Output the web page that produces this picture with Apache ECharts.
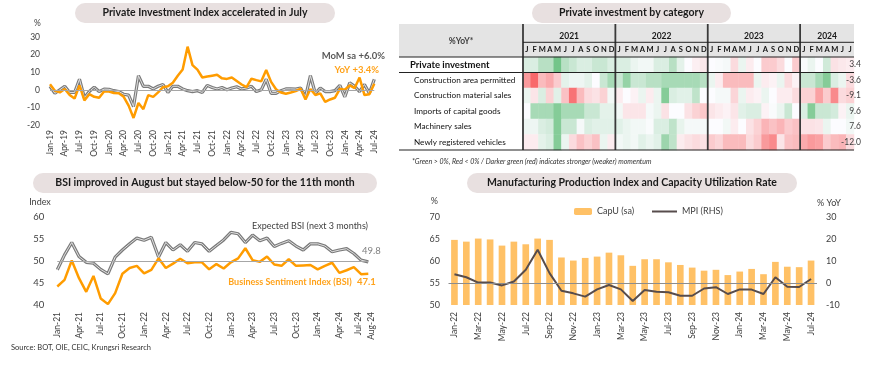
<!DOCTYPE html>
<html><head><meta charset="utf-8">
<script src="https://cdn.jsdelivr.net/npm/echarts@6/dist/echarts.min.js"></script>
<style>html,body{margin:0;padding:0;background:#fff}#c{width:870px;height:370px}</style>
</head><body><div id="c"></div>
<script>
// ---------- DATA ----------
const MONTHS = ['Jan','Feb','Mar','Apr','May','Jun','Jul','Aug','Sep','Oct','Nov','Dec'];
function monthSeq(startYear, n){const o=[];for(let i=0;i<n;i++){o.push(MONTHS[i%12]+'-'+String((startYear+Math.floor(i/12))%100).padStart(2,'0'));}return o;}

// Panel 1: Private Investment Index (Jan-19 .. Jul-24)
const piMonths = monthSeq(2019, 67);
const piYoY = [3.2,-0.5,-1.5,0.5,-3,-5,2.5,-6,-2.5,-4,-4.5,-1,
  -1,-1.8,-2,-4,-9,-16,-7.5,-11,-3,-4,-1.5,1.5,
  2,4,8,11.5,24.5,14,11.5,7,7.5,8,8.5,6.5,
  6.2,7,5,3,1.5,6.3,5.5,4.8,11.3,4.5,0.3,-1.5,
  -2.2,-1.5,-0.7,0.6,-5.5,0.5,-3,-2,-6.9,-5.5,-4.5,0.5,
  0,2.5,1,7,-3,-2.5,3.4];
const piMoM = [2,-2,0,2,-1.5,-1.5,6,-4.5,-1,1.5,-1,0.4,
  0.3,-0.5,-1,-2.5,-3,-9.5,8,2,2,0.5,2,3,
  -1.5,2,2,0.5,-0.5,-1,-0.5,-1.5,2.5,1.3,0.5,1.3,
  0,1,1.7,0.5,1,2,-1,0,6,-2,-2,-0.5,
  0.5,0.5,0.4,1,-4,8,-2,1,-1,-1,-0.5,2.5,
  -4,4,2,-1,3,-2,6.0];

// Panel 2: heatmap (momentum shading, Jan-21 .. Jul-24)
const hmYears = ['2021','2022','2023','2024'];
const hmYearMonths = [12,12,12,7];
const hmLetters = ['J','F','M','A','M','J','J','A','S','O','N','D'];
const hmRows = ['Private investment','Construction area permitted','Construction material sales','Imports of capital goods','Machinery sales','Newly registered vehicles'];
const hmLatest = [3.4,-3.6,-9.1,9.6,7.6,-12.0];
const hmPrivate = [1,1,2,2,4,2,1.5,1,1,1.5,1.5,1, 1,1,0.5,0.3,0.3,1,1,2,0.7,0,-0.4,-0.6, 0,0.1,0.2,-1,0.5,-0.5,0,-1.5,-1.5,-1,0,-1.5, 0.1,0.5,0,1.3,-0.8,-0.6,-0.5];
const hmConstrArea = [-3,-4.5,-2,-2.5,-1.5,0.7,0.4,0.4,0.7,0,1.5,2.5, 1.5,3,1.5,1.5,2,2,2.5,2.5,2.5,2.5,2.5,2, 0.5,-0.5,-2,-2,-2,-2,0.5,-0.5,-0.3,0.5,-1,-0.3, 1.5,1.5,2.5,3.5,1,0.5,-1];
const hmConstrMat = [0.5,-0.7,1,-1.3,0.8,-1.8,-4.2,-2,-1,-0.8,-1.3,0.3, -0.5,0,-0.3,0.5,-0.5,0.5,3.5,1,0.8,0.8,1.8,0, 0,0.2,0.2,-1.2,0.5,-0.5,-0.3,0.5,0,-0.5,-0.5,-1, -1.3,-1.3,-2.8,-1.5,-3.5,-1,-1.3];
const hmImports = [0,2.5,2.5,2.5,3.5,2.5,2.5,2.5,1.5,1.5,0.7,0.7, 0.3,-0.7,-0.7,-0.7,0.2,0.5,-0.8,0,0,-0.8,-1.3,-1.6, -0.7,-0.5,-0.3,-0.7,0.8,1,1,-0.3,0.1,0.5,1.5,0, 1,3.5,1.5,1.5,1.2,-0.3,0.5];
const hmMachinery = [0.4,0.4,1,1.2,3.5,1.5,1.5,0.2,1,0.8,0.8,0.8, 0.8,0.5,0.3,0.3,0.1,1,1,1.8,0.6,0.2,0.2,0.2, 0,0,0.3,-0.5,0,-0.8,-1.3,-2.2,-1.8,-2.2,-1.5,-1.8, -0.8,-0.8,-0.7,0.5,0,0,0.3];
const hmVehicles = [-0.5,-0.5,0.7,1,3.5,0.5,-1,-1.8,-1.3,-1.8,0.5,-0.5, 0.3,0.5,0.3,0.8,0.5,0.8,2.8,1.8,-0.5,-0.8,-1,-0.8, -1.5,-1.2,-2,-2,-2,-1,-1.5,-3,-3.5,-0.7,-1.8,-2, -2.5,-3,-2.8,-1.5,-2,-2.2,-1];

// Panel 3: BSI (Jan-21 .. Aug-24)
const bsiMonths = monthSeq(2021, 44);
const bsi = [44.2,45.7,50.1,46.1,43.0,46.6,41.5,40.2,42.7,47.1,48.4,48.9,
  47.2,48.0,50.6,48.4,49.4,50.5,49.5,49.7,49.7,48.1,49.3,48.3,
  49.7,50.6,52.9,50.2,49.8,51.0,49.2,48.9,50.4,48.9,49.0,49.1,
  48.1,48.9,49.6,47.3,47.9,48.6,47.0,47.1];
const bsiExpected = [48.0,51.4,54.2,51.0,49.7,49.5,48.1,47.1,50.9,52.5,53.9,55.2,
  54.7,55.4,50.9,54.2,52.5,53.7,52.2,54.2,53.9,52.2,53.5,54.8,
  56.5,56.2,54.2,55.9,54.6,55.2,53.3,54.0,54.6,53.4,52.5,53.9,
  53.9,53.4,52.1,52.5,52.8,51.7,50.2,49.8];

// Panel 4: CapU and MPI (Jan-22 .. Jul-24)
const mpiMonths = monthSeq(2022, 31);
const capU = [64.8,64.4,65.1,64.9,63.5,64.4,63.8,65.1,64.8,60.8,60.1,60.7,
  61.0,61.9,61.3,58.9,60.4,60.4,59.7,59.1,58.5,57.8,58.0,56.8,
  57.6,58.2,57.0,59.8,58.7,58.6,60.1];
const mpi = [4.0,2.6,0.2,0.2,-1.1,0.7,6.0,15.1,4.5,-3.5,-4.7,-6.2,
  -2.9,-0.9,-2.9,-8.2,-3.2,-4.0,-4.2,-5.8,-5.8,-2.5,-1.9,-5.0,
  -2.9,-3.0,-5.0,2.6,-1.7,-1.8,1.8];

// ---------- CHART ----------
const FONT = 'Lato, "Open Sans", sans-serif';
const TXT = '#404040';
const ORANGE = '#ff9c00';
const hmSeriesRows = [hmPrivate,hmConstrArea,hmConstrMat,hmImports,hmMachinery,hmVehicles];
const hmCols = []; hmYearMonths.forEach((n,yi)=>{for(let m=0;m<n;m++) hmCols.push(hmYears[yi]+'-'+m);});
const hmColLetters = []; hmYearMonths.forEach(n=>{for(let m=0;m<n;m++) hmColLetters.push(hmLetters[m]);});
const hmData = [];
hmSeriesRows.forEach((row,r)=>row.forEach((v,c)=>hmData.push([c,r,v])));

const HM = {left:523, top:57, width:331, height:93};
const colW = HM.width / hmCols.length;

const G = [];
function txt(x,y,text,opt){G.push({type:'text',x:x,y:y,z:100,silent:true,style:Object.assign({text:text,fontFamily:FONT,fontSize:9,fill:TXT,align:'left',verticalAlign:'middle'},opt||{})});}
function line(x1,y1,x2,y2,w,c){G.push({type:'line',z:90,silent:true,shape:{x1:x1,y1:y1,x2:x2,y2:y2},style:{stroke:c||'#000',lineWidth:w||1}});}
function pill(x1,x2,y1,y2,title){
  G.push({type:'rect',z:80,silent:true,shape:{x:x1,y:y1,width:x2-x1,height:y2-y1,r:(y2-y1)/2},style:{fill:'#e8e0e0'}});
  txt((x1+x2)/2,(y1+y2)/2,title,{align:'center',fontWeight:'bold',fontSize:10.5,fill:'#1a1a1a'});
}
pill(75,335,3,23,'Private Investment Index accelerated in July');
pill(532,731,3,23,'Private investment by category');
pill(33,377,173,193,'BSI improved in August but stayed below-50 for the 11th month');
pill(467,797,173,193,'Manufacturing Production Index and Capacity Utilization Rate');

// panel 1 texts
txt(37.5,23,'%',{align:'center',fontSize:8.5});
txt(385,56,'MoM sa +6.0%',{align:'right',fontWeight:'bold',fontSize:9.5,fill:'#595959'});
txt(379,70,'YoY +3.4%',{align:'right',fontWeight:'bold',fontSize:9.5,fill:'#ffa21a'});

// panel 2 table decoration
G.push({type:'rect',z:-1,silent:true,shape:{x:399,y:24,width:HM.left+HM.width-399,height:HM.top-24},style:{fill:'#e4e4e4'}});
txt(461,41,'%YoY*',{align:'center',fontWeight:'bold',fontSize:8.5});
let acc=0;
hmYears.forEach((y,i)=>{
  const x0 = HM.left + acc*colW;
  txt(x0 + hmYearMonths[i]*colW/2, 36, y, {align:'center',fontWeight:'bold',fontSize:8.5,fill:'#1a1a1a'});
  line(x0,24,x0,HM.top+HM.height,1.8,'#3a3a3a');
  acc += hmYearMonths[i];
});
line(HM.left,42.3,HM.left+HM.width,42.3,1,'#222');
line(399,HM.top,HM.left+HM.width,HM.top,1.2,'#222');
line(399,HM.top+HM.height/6,HM.left+HM.width,HM.top+HM.height/6,1.2,'#222');
line(399,HM.top+HM.height,HM.left+HM.width,HM.top+HM.height,1.2,'#222');
txt(412,162,'*Green > 0%, Red < 0% / Darker green (red) indicates stronger (weaker) momentum',{fontStyle:'italic',fontSize:7,fill:'#333'});

// panel 3 texts
txt(40,201.7,'Index',{align:'center',fontSize:9});
txt(310,226,'Expected BSI (next 3 months)',{align:'center',fontSize:9,fill:'#404040'});
txt(362,251,'49.8',{fontSize:9.5,fill:'#808080'});
txt(290,282,'Business Sentiment Index (BSI)',{align:'center',fontWeight:'bold',fontSize:9,fill:'#ffa21a'});
txt(357,282,'47.1',{fontWeight:'bold',fontSize:9.5,fill:'#ffa21a'});
txt(11,348,'Source: BOT, OIE, CEIC, Krungsri Research',{fontSize:7.5,fill:'#333'});

// panel 4 texts
txt(438,201.5,'%',{align:'right',fontSize:9});
txt(817,203,'% YoY',{fontSize:9});

const axLbl = (o)=>Object.assign({fontFamily:FONT,color:TXT,fontSize:8.5,hideOverlap:false},o);
const noAx = {axisLine:{show:false},axisTick:{show:false},splitLine:{show:false}};
const lastB = bsiMonths.length-1;

const option = {
  animation:false,
  backgroundColor:'#fff',
  textStyle:{fontFamily:FONT},
  grid:[
    {left:50,top:37,width:324.3,height:88},
    {left:HM.left,top:HM.top,width:HM.width,height:HM.height},
    {left:57.3,top:217,width:311,height:88},
    {left:448.5,top:217,width:368.5,height:88}
  ],
  legend:[
    {data:['CapU (sa)'],left:569,top:202,itemWidth:18,itemHeight:7,itemGap:6,textStyle:{fontFamily:FONT,fontSize:9,color:TXT},selectedMode:false},
    {data:[{name:'MPI (RHS)',icon:'rect'}],left:647,top:202,itemWidth:25,itemHeight:2,itemGap:6,textStyle:{fontFamily:FONT,fontSize:9,color:TXT},selectedMode:false}
  ],
  visualMap:{type:'continuous',show:false,seriesIndex:3,dimension:2,min:-4.5,max:4.5,inRange:{color:['#F8696B','#FCFCFF','#63BE7B']}},
  xAxis:[
    Object.assign({gridIndex:0,type:'category',data:piMonths,boundaryGap:false,axisLabel:axLbl({interval:(i)=>i%3===0,rotate:90,margin:5})},noAx),
    Object.assign({gridIndex:1,z:20,type:'category',data:hmCols,position:'top',axisLabel:axLbl({interval:0,margin:3,fontSize:7.5,fontWeight:'bold',color:'#111',formatter:(v,i)=>hmColLetters[i]})},noAx),
    Object.assign({gridIndex:2,type:'category',data:bsiMonths,boundaryGap:false,axisLabel:axLbl({interval:(i)=>i%3===0||i===lastB,showMaxLabel:true,rotate:90,margin:7,fontSize:8.5,
      formatter:(v,i)=>i===lastB-1?'{l|'+v+'}':(i===lastB?'{r|'+v+'}':v),
      rich:{l:{fontFamily:FONT,fontSize:8.5,color:TXT,padding:[0,0,5,0]},r:{fontFamily:FONT,fontSize:8.5,color:TXT,padding:[5,0,0,0]}}})},noAx),
    Object.assign({gridIndex:3,type:'category',data:mpiMonths,boundaryGap:true,axisLabel:axLbl({interval:(i)=>i%2===0,rotate:90,margin:7,fontSize:8.5})},noAx)
  ],
  yAxis:[
    Object.assign({gridIndex:0,type:'value',min:-20,max:30,interval:10,axisLabel:axLbl({margin:10})},noAx),
    Object.assign({gridIndex:1,z:20,type:'category',data:hmRows,inverse:true,axisLabel:{interval:0,align:'left',margin:113,
      formatter:(v,i)=>i===0?'{b|'+v+'}':'{n|'+v+'}',
      rich:{b:{fontFamily:FONT,fontWeight:'bold',fontSize:9.5,color:'#111'},n:{fontFamily:FONT,fontSize:8.2,color:'#111',padding:[0,0,0,4]}}}},noAx),
    Object.assign({gridIndex:1,z:20,type:'category',data:hmLatest.map(v=>v.toFixed(1)),inverse:true,position:'right',axisLabel:axLbl({interval:0,align:'right',margin:7,fontSize:8.5})},noAx),
    Object.assign({gridIndex:2,type:'value',min:40,max:60,interval:5,axisLabel:axLbl({margin:13,fontSize:9.5})},noAx),
    Object.assign({gridIndex:3,type:'value',min:50,max:70,interval:5,axisLabel:axLbl({margin:8.5,fontSize:9})},noAx),
    Object.assign({gridIndex:3,type:'value',min:-10,max:30,interval:10,position:'right',axisLabel:axLbl({margin:9,fontSize:9})},noAx)
  ],
  series:[
    {type:'line',xAxisIndex:0,yAxisIndex:0,data:piMoM,symbol:'none',lineStyle:{color:'#7a7a7a',width:3.2},z:2,
     markLine:{silent:true,symbol:'none',label:{show:false},lineStyle:{color:'#a6a6a6',width:1.2,type:'solid'},data:[{yAxis:0}]}},
    {type:'line',xAxisIndex:0,yAxisIndex:0,data:piMoM,symbol:'none',lineStyle:{color:'#e2e2e2',width:1},z:3},
    {type:'line',xAxisIndex:0,yAxisIndex:0,data:piYoY,symbol:'none',lineStyle:{color:ORANGE,width:2.5},z:4},
    {type:'heatmap',xAxisIndex:1,yAxisIndex:1,data:hmData,itemStyle:{borderWidth:0},emphasis:{disabled:true},z:2},
    {type:'line',xAxisIndex:2,yAxisIndex:3,data:bsiExpected,symbol:'none',lineStyle:{color:'#7a7a7a',width:3.2},z:2,
     markLine:{silent:true,symbol:'none',label:{show:false},lineStyle:{color:'#a6a6a6',width:1.2,type:'solid'},data:[{yAxis:50}]}},
    {type:'line',xAxisIndex:2,yAxisIndex:3,data:bsiExpected,symbol:'none',lineStyle:{color:'#e2e2e2',width:1},z:3},
    {type:'line',xAxisIndex:2,yAxisIndex:3,data:bsi,symbol:'none',lineStyle:{color:ORANGE,width:2.5},z:4},
    {type:'bar',name:'CapU (sa)',xAxisIndex:3,yAxisIndex:4,data:capU,barWidth:'56%',itemStyle:{color:'#ffc166'},z:1},
    {type:'line',name:'MPI (RHS)',xAxisIndex:3,yAxisIndex:5,data:mpi,symbol:'none',lineStyle:{color:'#574c4c',width:2},itemStyle:{color:'#574c4c'},z:4,
     markLine:{silent:true,symbol:'none',label:{show:false},lineStyle:{color:'#8c8c8c',width:1,type:'solid'},data:[{yAxis:0}]}}
  ],
  graphic:G
};
const chart = echarts.init(document.getElementById('c'),null,{renderer:'canvas'});
chart.setOption(option);
</script></body></html>
